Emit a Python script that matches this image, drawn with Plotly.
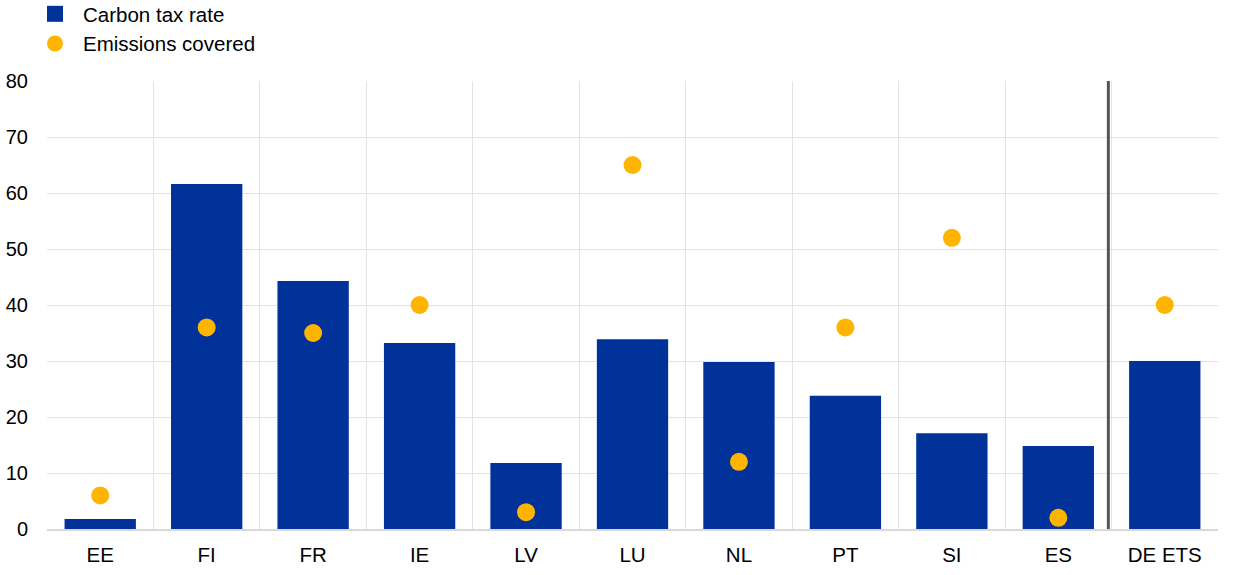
import plotly.graph_objects as go

categories = ["EE", "FI", "FR", "IE", "LV", "LU", "NL", "PT", "SI", "ES", "DE ETS"]
carbon_tax_rate = [1.8, 61.6, 44.3, 33.2, 11.8, 33.9, 29.8, 23.8, 17.1, 14.8, 30.0]
emissions_covered = [6, 36, 35, 40, 3, 65, 12, 36, 52, 2, 40]
y_ticks = [0, 10, 20, 30, 40, 50, 60, 70, 80]

BLUE = "#003299"
ORANGE = "#FFB400"
FONT = "Liberation Sans, Arial, sans-serif"

W, H = 1240, 575
ML, MR, MT, MB = 47, 22, 81, 46
PW, PH = W - ML - MR, H - MT - MB

fig = go.Figure()
fig.add_trace(go.Bar(
    x=categories, y=carbon_tax_rate, name="Carbon tax rate",
    marker=dict(color=BLUE, line=dict(width=0)), width=0.67, showlegend=False,
))
fig.add_trace(go.Scatter(
    x=categories, y=emissions_covered, name="Emissions covered", mode="markers",
    marker=dict(color=ORANGE, size=18, line=dict(width=0)), showlegend=False,
))
# legend entries
fig.add_trace(go.Scatter(
    x=[None], y=[None], name="Carbon tax rate", mode="markers",
    marker=dict(color=BLUE, size=18, symbol="square", line=dict(width=0)),
))
fig.add_trace(go.Scatter(
    x=[None], y=[None], name="Emissions covered", mode="markers",
    marker=dict(color=ORANGE, size=18, symbol="circle", line=dict(width=0)),
))

# separator between country taxes and DE ETS
sep = categories.index("ES") + 0.47
fig.add_shape(type="line", xref="x", yref="paper",
              x0=sep, x1=sep, y0=0, y1=1, line=dict(color="#555555", width=3))

fig.update_layout(
    width=W, height=H,
    margin=dict(l=ML, r=MR, t=MT, b=MB, autoexpand=False),
    paper_bgcolor="white", plot_bgcolor="white",
    font=dict(family=FONT, size=20, color="black"),
    showlegend=True,
    legend=dict(
        x=(27 - ML) / PW, y=1 + (MT + 6) / PH,
        xanchor="left", yanchor="top",
        font=dict(size=20.5), itemsizing="trace",
        bgcolor="rgba(0,0,0,0)", tracegroupgap=0, itemwidth=46,
    ),
    xaxis=dict(
        type="category", tickson="boundaries", showgrid=True,
        gridcolor="#e3e3e3", gridwidth=1, ticks="", showline=True,
        linecolor="#d9d9d9", linewidth=2, mirror=False, automargin=False,
        tickfont=dict(size=20.5), range=[-0.5, 10.5], ticklabelstandoff=6,
    ),
    yaxis=dict(
        range=[0, 80], tickvals=y_ticks, showgrid=True, gridcolor="#e3e3e3",
        gridwidth=1, zeroline=False, ticks="", showline=False, automargin=False,
        tickfont=dict(size=20), ticklabelstandoff=18,
    ),
)

fig.write_html("out.html", config={"displayModeBar": False},
               post_script="document.body.style.margin='0';")
